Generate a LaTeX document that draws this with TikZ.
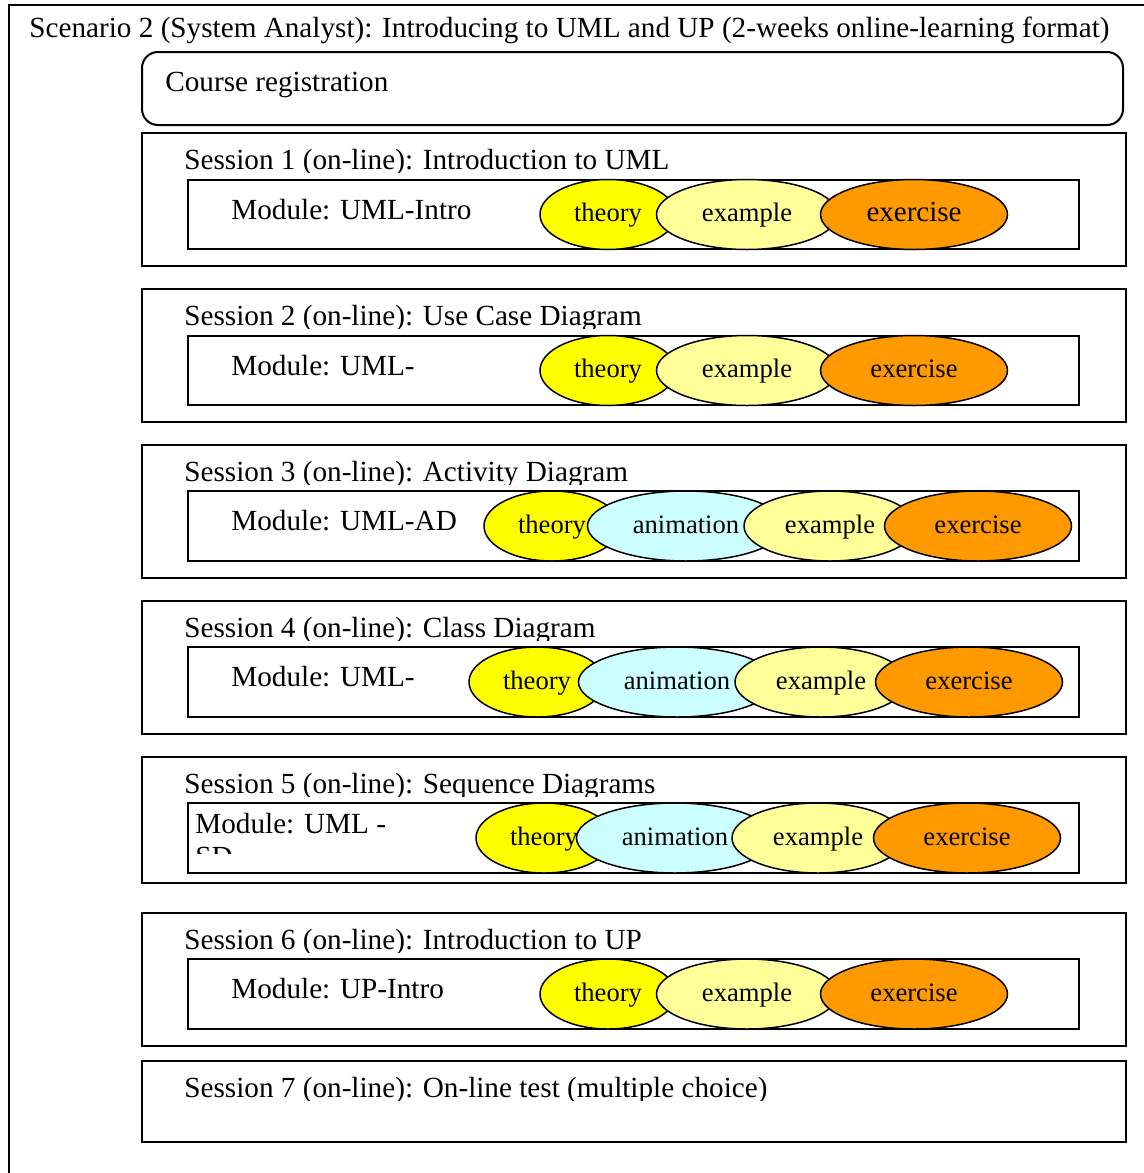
\documentclass[tikz,border=0pt]{standalone}
\usepackage{fontspec}
\setmainfont{Liberation Serif}
\usetikzlibrary{shapes.geometric}

\definecolor{theoryc}{RGB}{255,255,0}
\definecolor{examplec}{RGB}{255,255,153}
\definecolor{animc}{RGB}{204,255,255}
\definecolor{exercisec}{RGB}{255,153,0}

\tikzset{
  box/.style={draw, line width=1pt},
  txt/.style={anchor=base west, inner sep=0pt, font=\fontsize{14.6}{16.5}\selectfont},
  blob/.style={draw, ellipse, line width=0.75pt, inner sep=0pt,
    text height=0.8em, text depth=0.1em,
    minimum height=35pt, font=\fontsize{13.3}{15}\selectfont},
}

\begin{document}
\begin{tikzpicture}[x=0.5pt,y=-0.5pt]
\useasboundingbox (0,0) rectangle (1144,1173);

% frame of the scenario
\draw[line width=1pt] (1144,5) -- (9,5) -- (9,1173);
\node[txt] (title) at (29,37) {Scenario 2 (System Analyst): Introducing to UML and UP (2-weeks online-learning format)};

\draw[box, rounded corners=8pt] (142,52) rectangle (1123,125);
\node[txt] (reg) at (165,91) {Course registration};

% sessions
\foreach \s/\ya/\yb/\name in {1/133/266/Introduction to UML, 2/289/422/Use Case Diagram,
    3/445/578/Activity Diagram, 4/601/734/Class Diagram, 5/757/883/Sequence Diagrams,
    6/913/1046/Introduction to UP, 7/1061/1142/On-line test (multiple choice)}
{
\draw[box] (142,\ya) rectangle (1126,\yb);
\begin{scope}
\clip (142,\ya) rectangle (1126,\ya+39);
\node[txt] (s\s) at (184,\ya+36) {Session \s\ (on-line): \name};
\end{scope}
}

% modules
\foreach \s/\ya/\yb/\mod in {1/180/249/UML-Intro, 2/336/405/UML-, 3/491/561/UML-AD,
    4/647/717/UML-, 6/959/1029/UP-Intro}
{
\draw[box] (188,\ya) rectangle (1079,\yb);
\node[txt] (m\s) at (231,\ya+39) {Module: \mod};
}
\draw[box] (188,803) rectangle (1079,873);
\node[txt] (m5) at (195,833) {Module: UML -};
\begin{scope}
\clip (188,803) rectangle (1079,853);
\node[txt] (m5b) at (195,866) {SD};
\end{scope}

% theory - example - exercise
\foreach \s/\y/\fs in {1/214.5/14.5, 2/370.5/13.3, 6/994/13.3}
{
\node[blob, fill=theoryc, minimum width=68pt] (th\s) at (608,\y) {theory};
\node[blob, fill=examplec, minimum width=90.5pt] (ex\s) at (747,\y) {example};
\node[blob, fill=exercisec, minimum width=93.5pt, font=\fontsize{\fs}{16}\selectfont] (ec\s) at (914,\y) {exercise};
}

% theory - animation - example - exercise
\foreach \s/\y/\a/\b/\c/\d in {3/526/552/686/830/978, 4/682/537/677/821/969, 5/838/544/675/818/967}
{
\node[blob, fill=theoryc, minimum width=68pt] (th\s) at (\a,\y) {theory};
\node[blob, fill=animc, minimum width=98.5pt] (an\s) at (\b,\y) {animation};
\node[blob, fill=examplec, minimum width=86pt] (ex\s) at (\c,\y) {example};
\node[blob, fill=exercisec, minimum width=93.5pt] (ec\s) at (\d,\y) {exercise};
}
\end{tikzpicture}
\end{document}
